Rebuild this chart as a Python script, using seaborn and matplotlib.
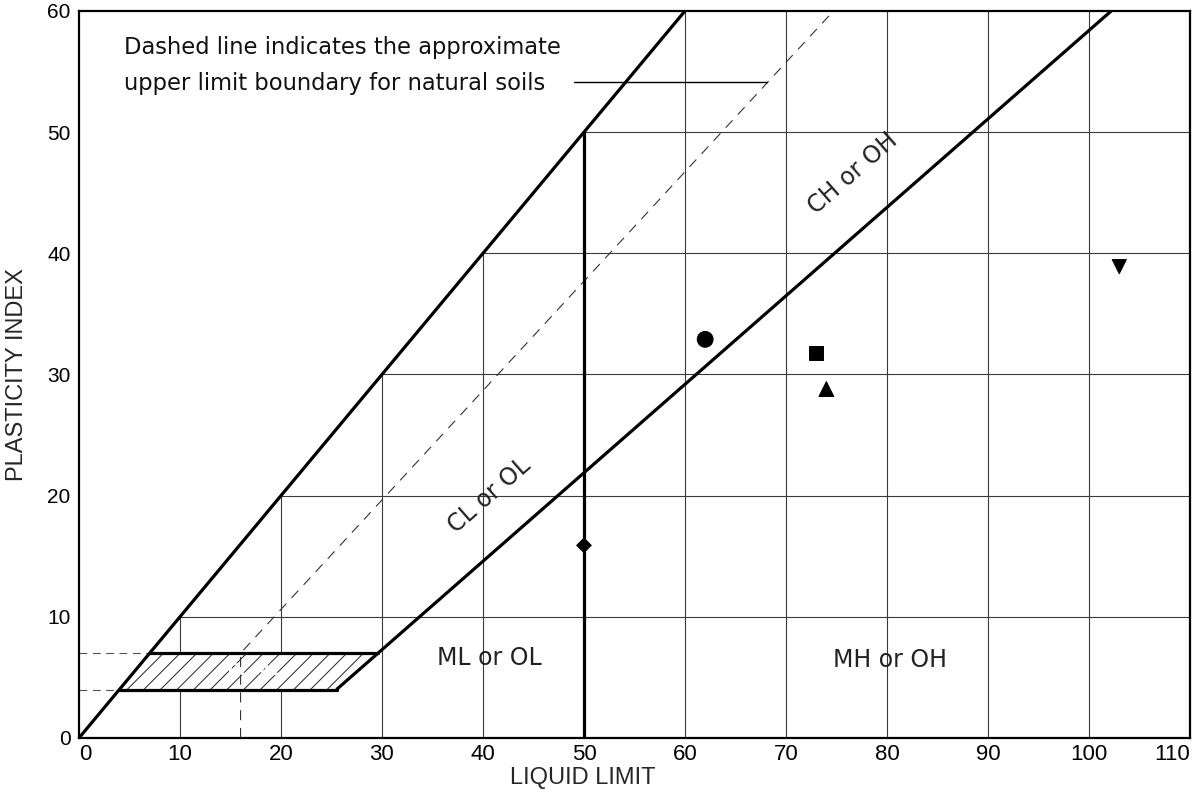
import matplotlib
matplotlib.use('Agg')
import matplotlib.pyplot as plt
import numpy as np
import pandas as pd
import seaborn as sns

# soil samples plotted on the chart
sample_names = ['circle', 'square', 'triangle', 'diamond', 'inverted']
liquid_limit = [62.0, 73.0, 74.0, 50.0, 103.0]
plasticity_index = [32.9, 31.8, 28.8, 15.9, 38.9]
sample_markers = ['o', 's', '^', 'D', 'v']
sample_sizes = [130, 105, 115, 55, 105]

# boundary lines (liquid limit, plasticity index)
upper_ll = [0, 60]
upper_pi = [0, 60]
a_line_ll = [25.5, 102.2]
a_line_pi = [4, 60]
u_line_ll = [16, 16, 74.7]
u_line_pi = [0, 7, 60]
ll50_ll = [50, 50]
ll50_pi = [0, 50]
clml_ll = [4, 25.5, 29.6, 7]
clml_pi = [4, 4, 7, 7]
leader_ll = [49, 68.1]
leader_pi = [54.1, 54.1]

xticks = list(range(0, 111, 10))
yticks = list(range(0, 61, 10))

sns.set_theme(style='white')
plt.rcParams['font.family'] = ['DejaVu Sans']
plt.rcParams['hatch.linewidth'] = 0.7
narrow = ['Liberation Sans Narrow', 'Liberation Sans', 'DejaVu Sans']
arial = ['Liberation Sans', 'DejaVu Sans']

fig = plt.figure(figsize=(12.02, 7.96), dpi=100)
ax = fig.add_axes([0.0657, 0.0729, 0.9243, 0.9133])
ax.set_xlim(0, 110)
ax.set_ylim(0, 60)

grid_kw = dict(color='#3a3a3a', lw=0.8, zorder=1)
# grid only below the PI = LL line
for x in xticks[1:-1]:
    ax.plot([x, x], [0, min(x, 60)], **grid_kw)
for y in yticks[1:-1]:
    ax.plot([y, 110], [y, y], **grid_kw)

# dashed guides to the CL-ML band
ax.hlines([4, 7], 0, [4, 7], colors='#555555', lw=0.8, linestyles=(0, (7, 5)), zorder=1)

# hatched CL-ML band
ax.fill(clml_ll, clml_pi, facecolor='white', edgecolor='#222222', hatch='//', lw=0, zorder=2)
ax.plot([clml_ll[0], clml_ll[1]], [clml_pi[0], clml_pi[1]], color='black', lw=2.3, zorder=4)
ax.plot([clml_ll[3], clml_ll[2]], [clml_pi[3], clml_pi[2]], color='black', lw=2.3, zorder=4)
ax.text(17.2, 5.6, 'CL-ML', color='white', fontsize=11, fontweight='bold',
        ha='center', va='center', zorder=3)

# U-line (dashed)
ax.plot(u_line_ll, u_line_pi, color='#333333', lw=0.8, ls=(0, (9, 7)), zorder=3)

# main boundaries
line_kw = dict(color='black', lw=2.3, zorder=4, solid_capstyle='butt')
ax.plot(upper_ll, upper_pi, **line_kw)
ax.plot(a_line_ll, a_line_pi, **line_kw)
ax.plot(ll50_ll, ll50_pi, **line_kw)
ax.plot(leader_ll, leader_pi, color='black', lw=1.0, zorder=4)

ax.text(4.5, 55.5, 'Dashed line indicates the approximate\nupper limit boundary for natural soils',
        fontsize=16.3, ha='left', va='center', linespacing=1.75, color='#111111')

# zone labels
zone_kw = dict(fontsize=17, color='#222222', ha='center', va='center')
ax.text(40.6, 6.6, 'ML or OL', **zone_kw)
ax.text(80.3, 6.4, 'MH or OH', **zone_kw)
ax.text(40.6, 20.0, 'CL or OL', rotation=np.degrees(np.arctan(0.73)),
        transform_rotates_text=True, rotation_mode='anchor', **zone_kw)
ax.text(76.6, 46.6, 'CH or OH', rotation=np.degrees(np.arctan(0.73)),
        transform_rotates_text=True, rotation_mode='anchor', **zone_kw)

df = pd.DataFrame({'LL': liquid_limit, 'PI': plasticity_index, 'sample': sample_names})
sns.scatterplot(data=df, x='LL', y='PI', style='sample', size='sample',
                markers=dict(zip(sample_names, sample_markers)),
                sizes=dict(zip(sample_names, sample_sizes)),
                color='black', edgecolor='black', legend=False, ax=ax, zorder=5)

ax.set_xticks(xticks)
ax.set_yticks(yticks)
ax.set_xticklabels([str(t) for t in xticks], fontfamily=narrow, fontsize=16)
ax.set_yticklabels([str(t) for t in yticks], fontfamily=arial, fontsize=15)
xlabels = ax.get_xticklabels()
xlabels[0].set_horizontalalignment('left')
xlabels[-1].set_horizontalalignment('right')
ax.tick_params(axis='x', length=0, pad=4, colors='black')
ax.tick_params(axis='y', direction='in', length=32, width=0.8, color='#3a3a3a', pad=6,
               labelcolor='black')
ax.set_xlabel('LIQUID LIMIT', fontfamily=narrow, fontsize=17, labelpad=2, x=0.4536)
ax.set_ylabel('PLASTICITY INDEX', fontfamily=narrow, fontsize=17, labelpad=14)
for s in ax.spines.values():
    s.set_color('black')
    s.set_linewidth(1.6)
ax.grid(False)

fig.savefig('out.png', dpi=100)
